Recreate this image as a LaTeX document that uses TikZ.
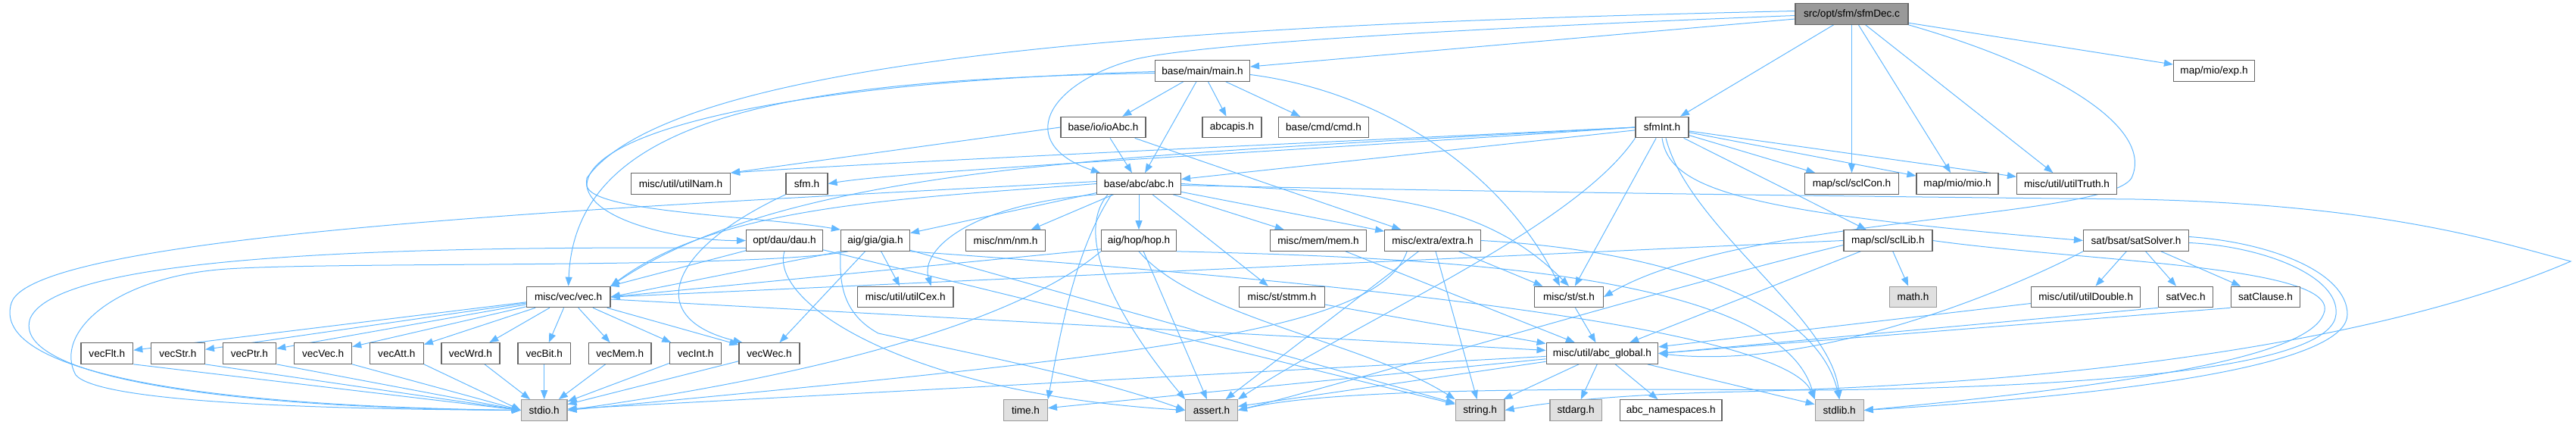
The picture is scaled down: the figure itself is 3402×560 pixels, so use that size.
\documentclass[tikz,border=0pt]{standalone}
\usepackage{fontspec}
\setmainfont{Liberation Sans}
\usetikzlibrary{arrows.meta}
\pgfdeclarelayer{bg}
\pgfsetlayers{bg,main}
\definecolor{edgec}{HTML}{63B8FF}
\definecolor{bord}{HTML}{666666}
\definecolor{sysfill}{HTML}{E0E0E0}
\definecolor{sysbord}{HTML}{999999}
\definecolor{mainfill}{HTML}{999999}
\newcommand\nodefont{\fontsize{13.6pt}{16pt}\selectfont}
\tikzset{
  box/.style={draw=bord,fill=white,line width=1.2pt,minimum height=27.5pt,inner sep=0pt,font=\nodefont},
  sys/.style={box,draw=sysbord,fill=sysfill},
  e/.style={draw=edgec,line width=1pt,-{Triangle[length=12pt,width=9pt]}}
}
\begin{document}
\begin{tikzpicture}[x=1pt,y=-1pt]
\useasboundingbox (0,0) rectangle (3402,560);
% row 0-2
\node[box,fill=mainfill,minimum width=149pt] (sfmDec) at (2445.5,18.5) {src/opt/sfm/sfmDec.c};
\node[box,minimum width=125pt] (main) at (1588,93.5) {base/main/main.h};
\node[box,minimum width=107pt] (exp) at (2924,93.5) {map/mio/exp.h};
\node[box,minimum width=112pt] (ioAbc) at (1457,168) {base/io/ioAbc.h};
\node[box,minimum width=78pt] (abcapis) at (1627,168) {abcapis.h};
\node[box,minimum width=119pt] (cmd) at (1748,168) {base/cmd/cmd.h};
\node[box,minimum width=70pt] (sfmInt) at (2195,168) {sfmInt.h};
% row 3
\node[box,minimum width=131pt] (utilNam) at (899,242.5) {misc/util/utilNam.h};
\node[box,minimum width=55pt] (sfm) at (1065.5,242.5) {sfm.h};
\node[box,minimum width=111pt] (abc) at (1504,242.5) {base/abc/abc.h};
\node[box,minimum width=124pt] (sclCon) at (2445.5,242.5) {map/scl/sclCon.h};
\node[box,minimum width=108pt] (mio) at (2585,242.5) {map/mio/mio.h};
\node[box,minimum width=132pt] (utilTruth) at (2729.5,242.5) {misc/util/utilTruth.h};
% row 4
\node[box,minimum width=101pt] (dau) at (1036,317.5) {opt/dau/dau.h};
\node[box,minimum width=91pt] (gia) at (1156,317.5) {aig/gia/gia.h};
\node[box,minimum width=105pt] (nm) at (1328,317.5) {misc/nm/nm.h};
\node[box,minimum width=99pt] (hop) at (1504,317.5) {aig/hop/hop.h};
\node[box,minimum width=126.5pt] (mem) at (1741,317.5) {misc/mem/mem.h};
\node[box,minimum width=126.5pt] (extra) at (1892,317.5) {misc/extra/extra.h};
\node[box,minimum width=117pt] (sclLib) at (2493.4,317.5) {map/scl/sclLib.h};
\node[box,minimum width=139pt] (satSolver) at (2821,317.5) {sat/bsat/satSolver.h};
% row 5
\node[box,minimum width=110.6pt] (vec) at (750.7,392) {misc/vec/vec.h};
\node[box,minimum width=126.4pt] (utilCex) at (1195.8,392) {misc/util/utilCex.h};
\node[box,minimum width=112.7pt] (stmm) at (1693,392) {misc/st/stmm.h};
\node[box,minimum width=90.6pt] (st) at (2072,392) {misc/st/st.h};
\node[sys,minimum width=62pt] (math) at (2526.5,392) {math.h};
\node[box,minimum width=144pt] (utilDouble) at (2754.7,392) {misc/util/utilDouble.h};
\node[box,minimum width=72.4pt] (satVec) at (2886.6,392) {satVec.h};
\node[box,minimum width=91.7pt] (satClause) at (2992,392) {satClause.h};
% row 6
\node[box,minimum width=68.8pt] (vecFlt) at (141.3,466.5) {vecFlt.h};
\node[box,minimum width=71pt] (vecStr) at (234.9,466.5) {vecStr.h};
\node[box,minimum width=70.6pt] (vecPtr) at (329.4,466.5) {vecPtr.h};
\node[box,minimum width=75.8pt] (vecVec) at (426.7,466.5) {vecVec.h};
\node[box,minimum width=71pt] (vecAtt) at (523.8,466.5) {vecAtt.h};
\node[box,minimum width=77pt] (vecWrd) at (621.4,466.5) {vecWrd.h};
\node[box,minimum width=69.6pt] (vecBit) at (718.7,466.5) {vecBit.h};
\node[box,minimum width=82.5pt] (vecMem) at (818.7,466.5) {vecMem.h};
\node[box,minimum width=68.4pt] (vecInt) at (918.6,466.5) {vecInt.h};
\node[box,minimum width=80pt] (vecWec) at (1016,466.5) {vecWec.h};
\node[box,minimum width=147.6pt] (abc_global) at (2115.9,466.5) {misc/util/abc\_global.h};
% row 7
\node[sys,minimum width=60.6pt] (stdio) at (718.7,541.5) {stdio.h};
\node[sys,minimum width=57.7pt] (time) at (1354.5,541.5) {time.h};
\node[sys,minimum width=68.5pt] (assert) at (1600,541.5) {assert.h};
\node[sys,minimum width=64.7pt] (string) at (1954.6,541.5) {string.h};
\node[sys,minimum width=68.4pt] (stdarg) at (2081.2,541.5) {stdarg.h};
\node[box,minimum width=134.6pt] (abc_namespaces) at (2206.7,541.5) {abc\_namespaces.h};
\node[sys,minimum width=64pt] (stdlib) at (2429.2,541.5) {stdlib.h};

\begin{pgfonlayer}{bg}
% sfmDec
\draw[e] (sfmDec) -- (main);
\draw[e] ([yshift=-2pt]sfmDec.west) .. controls (2000,35) and (1600,55) .. (1500,78) .. controls (1380,110) and (1340,190) .. ([xshift=5pt]abc.north west);
\draw[e] ([yshift=4pt]sfmDec.west) .. controls (1700,30) and (900,60) .. (775,235) .. controls (765,290) and (900,318) .. (dau.west);
\draw[e] (sfmDec) -- (sfmInt);
\draw[e] (sfmDec) -- (sclCon);
\draw[e] (sfmDec) -- (mio);
\draw[e] (sfmDec) -- (utilTruth);
\draw[e] (sfmDec) -- (exp);
\draw[e] (sfmDec.south east) .. controls (2720,90) and (2845,170) .. (2815,235) .. controls (2780,290) and (2300,285) .. (st.east);
% main
\draw[e] (main) -- (ioAbc);
\draw[e] (main) -- (abc);
\draw[e] (main) -- (abcapis);
\draw[e] (main) -- (cmd);
\draw[e] ([yshift=-3pt]main.west) .. controls (1050,105) and (760,150) .. (vec.north);
\draw[e] ([yshift=-1pt]main.west) .. controls (1000,110) and (775,180) .. (775,245) .. controls (780,280) and (1000,285) .. (gia.north west);
\draw[e] ([yshift=-5pt]main.east) .. controls (1820,120) and (1980,220) .. ([xshift=-12pt]st.north);
% ioAbc
\draw[e] (ioAbc) -- (abc);
\draw[e] (ioAbc.west) -- (utilNam.north east);
\draw[e] (ioAbc) -- (extra);
% sfmInt
\draw[e] (sfmInt.west) .. controls (1700,190) and (1150,215) .. (utilNam.north east);
\draw[e] (sfmInt.west) .. controls (1700,200) and (1200,225) .. (sfm.east);
\draw[e] (sfmInt) -- (abc);
\draw[e] (sfmInt.west) .. controls (1500,205) and (1050,215) .. (vec.north east);
\draw[e] (sfmInt) -- (sclCon);
\draw[e] (sfmInt) -- (mio);
\draw[e] (sfmInt) -- (utilTruth);
\draw[e] (sfmInt) -- (sclLib);
\draw[e] (sfmInt.south) .. controls (2205,250) and (2300,280) .. (satSolver.west);
\draw[e] (sfmInt) -- (st);
\draw[e] (sfmInt.south west) .. controls (2080,300) and (1800,420) .. (assert.north east);
\draw[e] ([xshift=5pt]sfmInt.south) .. controls (2230,300) and (2420,420) .. (stdlib.north);
% sfm
\draw[e] (sfm.south west) .. controls (880,330) and (850,420) .. ([xshift=5pt]vecWec.north west);
% abc
\draw[e] (abc.west) .. controls (1200,262) and (950,270) .. (vec.north east);
\draw[e] (abc) -- (hop);
\draw[e] (abc) -- (gia);
\draw[e] (abc) -- (nm);
\draw[e] (abc) -- (mem);
\draw[e] (abc) -- (extra);
\draw[e] (abc.east) .. controls (1800,255) and (1950,255) .. (st.north);
\draw[e] (abc) -- (stmm);
\draw[e] (abc.south west) .. controls (1280,270) and (1215,330) .. ([xshift=-30pt]utilCex.north east);
\draw[e] ([xshift=20pt]abc.south west) .. controls (1420,330) and (1400,440) .. (time.north east);
\draw[e] ([xshift=15pt]abc.south west) .. controls (1410,320) and (1500,450) .. (assert.north west);
\draw[e] ([yshift=3pt]abc.west) .. controls (900,270) and (45,304) .. (15,400) .. controls (-10,480) and (200,535) .. (stdio.west);
\draw[e] ([yshift=-2pt]abc.east) .. controls (1800,250) and (2300,258) .. (2820,263) .. controls (3150,270) and (3300,320) .. (3395,345) .. controls (3150,450) and (2750,505) .. (2300,517) .. controls (2150,520) and (2050,530) .. (string.east);
% dau
\draw[e] (dau) -- (vec);
\draw[e] ([yshift=-10pt]dau.west) .. controls (600,325) and (80,330) .. (40,420) .. controls (15,490) and (250,538) .. (stdio.west);
\draw[e] (dau.south) .. controls (1015,400) and (1200,520) .. (assert.west);
\draw[e] (dau) -- (string);
% gia
\draw[e] (gia.south west) -- (vec.east);
\draw[e] (gia) -- (vecWec);
\draw[e] (gia) -- (utilCex);
\draw[e] ([xshift=10pt]gia.south west) .. controls (1000,355) and (450,345) .. (300,355) .. controls (150,365) and (70,440) .. (100,495) .. controls (130,530) and (400,540) .. (stdio.west);
\draw[e] (gia.south west) .. controls (1110,360) and (1105,410) .. (1160,440) .. controls (1300,470) and (1450,500) .. (assert.west);
\draw[e] (gia) -- (string);
\draw[e] (gia.south east) .. controls (1600,360) and (2350,420) .. (stdlib.north west);
% hop
\draw[e] ([yshift=3pt]hop.south west) -- (vec.east);
\draw[e] (hop) -- (assert);
\draw[e] (hop.south west) .. controls (1300,460) and (900,520) .. (stdio.east);
\draw[e] (hop.south) .. controls (1580,420) and (1800,450) .. (string.north west);
\draw[e] (hop.south east) .. controls (1900,340) and (2350,360) .. (stdlib.north west);
% mem, extra, stmm, st
\draw[e] (mem) -- (abc_global);
\draw[e] (extra) -- (st);
\draw[e] (extra) -- (string);
\draw[e] (extra) -- (assert);
\draw[e] ([xshift=30pt]extra.south west) .. controls (1820,440) and (1500,470) .. (stdio.east);
\draw[e] (extra.east) .. controls (2200,330) and (2400,400) .. (stdlib.north);
\draw[e] (stmm) -- (abc_global);
\draw[e] (st) -- (abc_global);
% sclLib
\draw[e] (sclLib) -- (math);
\draw[e] (sclLib.west) -- (vec.east);
\draw[e] (sclLib) -- (abc_global);
\draw[e] ([yshift=-6pt]sclLib.west) .. controls (2200,380) and (1800,500) .. (assert.east);
\draw[e] (sclLib.east) .. controls (2750,345) and (3080,350) .. (3070,410) .. controls (3060,460) and (2900,500) .. (stdlib.east);
% satSolver
\draw[e] (satSolver) -- (utilDouble);
\draw[e] (satSolver) -- (satVec);
\draw[e] (satSolver) -- (satClause);
\draw[e] (satSolver.south west) .. controls (2660,380) and (2400,490) .. (abc_global.east);
\draw[e] ([yshift=5pt]satSolver.east) .. controls (3000,320) and (3100,360) .. (3100,415) .. controls (3100,470) and (2900,515) .. (stdlib.east);
\draw[e] ([yshift=-3pt]satSolver.east) .. controls (2990,325) and (3090,365) .. (3085,415) .. controls (3080,475) and (2850,510) .. (2400,515) .. controls (2000,512) and (1750,515) .. (assert.east);
\draw[e] (utilDouble) -- (abc_global);
\draw[e] (satVec.south west) -- (abc_global.east);
\draw[e] (satClause.south west) -- (abc_global.east);
% vec
\foreach \v in {vecFlt,vecStr,vecPtr,vecVec,vecAtt,vecWrd,vecBit,vecMem,vecInt,vecWec} {\draw[e] (vec) -- (\v);}
\foreach \v in {vecFlt,vecStr,vecPtr,vecVec,vecAtt} {\draw[e] (\v.south east) -- (stdio.west);}
\foreach \v in {vecWrd,vecBit,vecMem,vecInt,vecWec} {\draw[e] (\v) -- (stdio);}
\draw[e] (vec) -- (abc_global);
% abc_global
\foreach \t in {stdio,time,assert,string,stdarg,abc_namespaces,stdlib} {\draw[e] (abc_global) -- (\t);}
\end{pgfonlayer}
\end{tikzpicture}
\end{document}
